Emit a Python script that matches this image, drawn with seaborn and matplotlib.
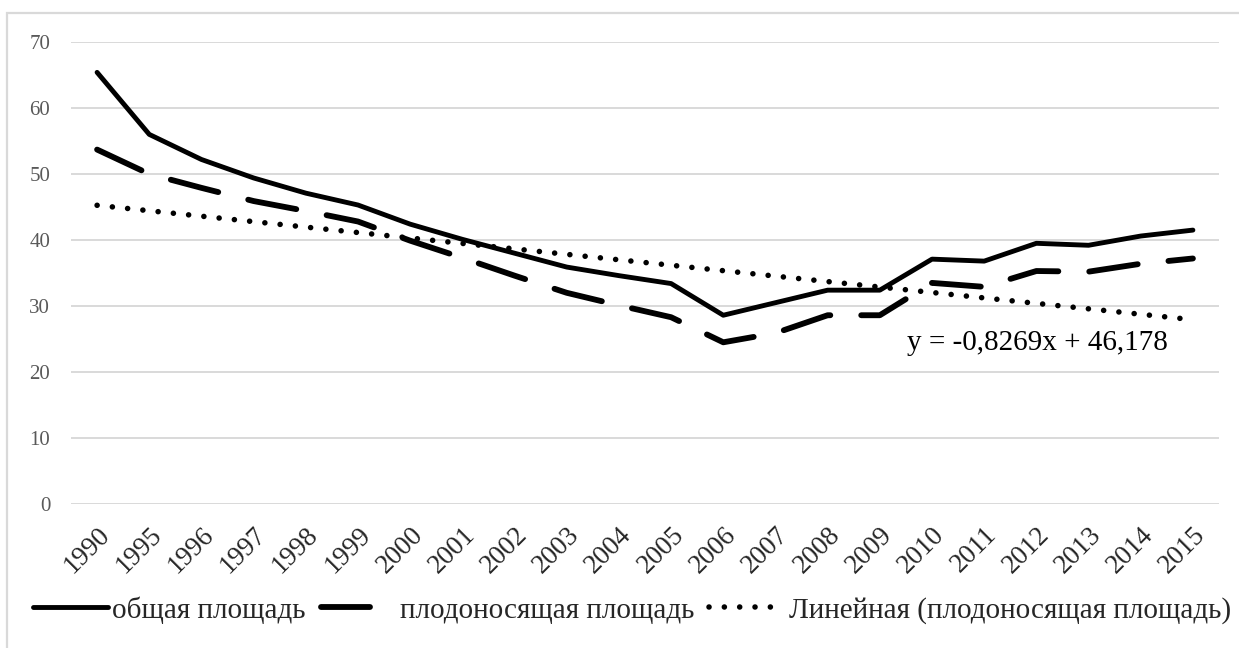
import numpy as np
import pandas as pd
import matplotlib
matplotlib.use("Agg")
import matplotlib.pyplot as plt
from matplotlib.patches import Rectangle
import seaborn as sns

# data
years = ["1990", "1995", "1996", "1997", "1998", "1999", "2000", "2001", "2002", "2003", "2004",
         "2005", "2006", "2007", "2008", "2009", "2010", "2011", "2012", "2013", "2014", "2015"]
total_area = [65.4, 56.0, 52.2, 49.4, 47.1, 45.3, 42.4, 40.1, 38.0, 35.9, 34.6,
              33.4, 28.6, 30.5, 32.4, 32.4, 37.1, 36.8, 39.5, 39.2, 40.6, 41.5]
fruit_area = [53.7, 50.0, 47.9, 45.9, 44.4, 42.8, 39.9, 37.3, 34.6, 32.0, 30.1,
              28.3, 24.5, 25.9, 28.6, 28.6, 33.5, 32.9, 35.3, 35.2, 36.4, 37.2]
label_total = "общая площадь"
label_fruit = "плодоносящая площадь"
label_trend = "Линейная (плодоносящая площадь)"
equation = "y = -0,8269x + 46,178"

sns.set_theme(style="white")
plt.rcParams["font.family"] = ["Liberation Serif", "DejaVu Serif"]

x = np.arange(len(years))
# linear trend of the fruiting area, like Excel's trendline
coef = np.polyfit(x + 1, fruit_area, 1)
trend = np.polyval(coef, x + 1)

df = pd.DataFrame({"x": x, "total": total_area, "fruit": fruit_area, "trend": trend})

fig = plt.figure(figsize=(12.39, 6.48), dpi=100)
ax = fig.add_axes([71 / 1239, 1 - 504 / 648, (1219 - 71) / 1239, (504 - 42) / 648])

# outer chart border (cropped on the right and bottom)
fig.patches.append(Rectangle((7 / 1239, -0.2), 2.0, 1.2 - 13 / 648, transform=fig.transFigure,
                             fill=False, edgecolor="#d9d9d9", lw=1.6))

for yv in range(0, 71, 10):
    ax.axhline(yv, color="#d9d9d9", lw=1.4, zorder=0)

sns.lineplot(data=df, x="x", y="trend", ax=ax, color="black", lw=4.0,
             linestyle=(0, (0.01, 2.75)), dash_capstyle="round", label=label_trend)
sns.lineplot(data=df, x="x", y="fruit", ax=ax, color="black", lw=4.2,
             linestyle=(0, (8.4, 5.3)), dash_capstyle="round", label=label_fruit)
sns.lineplot(data=df, x="x", y="total", ax=ax, color="black", lw=3.5,
             solid_capstyle="round", solid_joinstyle="round", label=label_total)

ax.set_xlim(-0.5, len(years) - 0.5)
ax.set_ylim(0, 70)
ax.set_yticks(range(0, 71, 10))
ax.set_xticks(x)
ax.set_xticklabels(years, rotation=45, ha="right", va="top", rotation_mode="anchor", fontsize=19.5)
ax.tick_params(axis="x", length=0, pad=13)
ax.tick_params(axis="y", length=0, pad=15, labelsize=15, labelcolor="#595959")
ax.set_xlabel("")
ax.set_ylabel("")
for s in ax.spines.values():
    s.set_visible(False)

ax.text(15.53, 24.4, equation, fontsize=21, va="center", ha="left", color="black")

handles, labels = ax.get_legend_handles_labels()
ax.get_legend().remove()
order = [2, 1, 0]
fig.legend([handles[i] for i in order], [labels[i] for i in order], loc="center",
           bbox_to_anchor=(632 / 1239, 1 - 610 / 648), ncol=3, frameon=False, fontsize=21,
           handlelength=2.6, handletextpad=0.14, columnspacing=0.5, borderpad=0.2)

fig.savefig("out.png", dpi=100)
